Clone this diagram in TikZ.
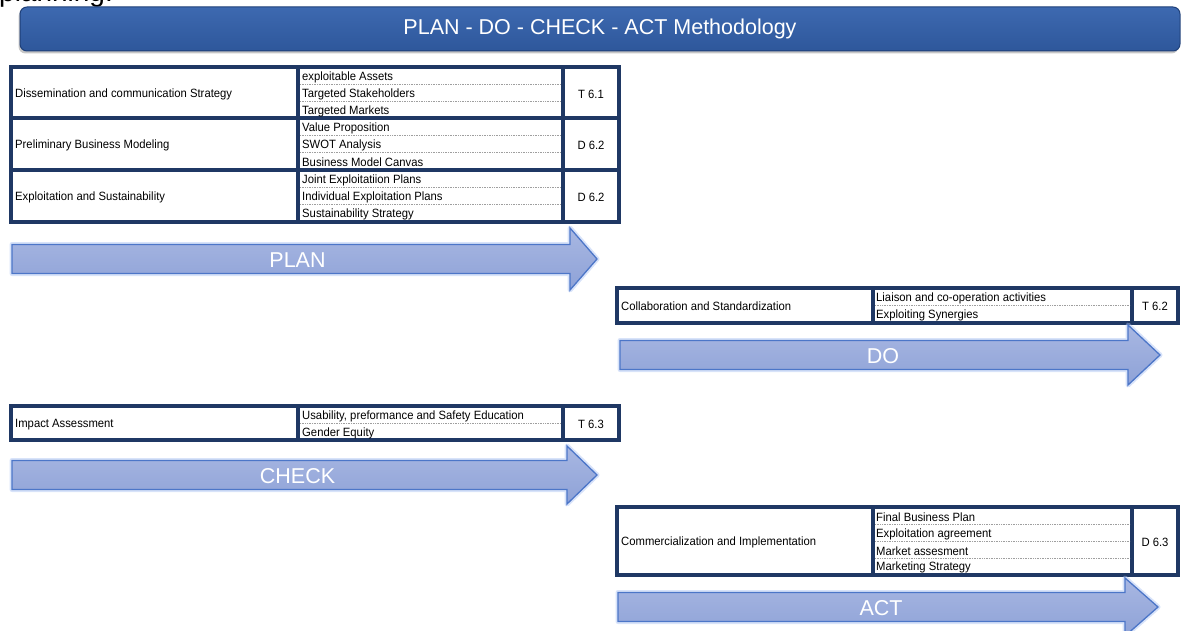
\documentclass[tikz,border=0pt]{standalone}
\usepackage{fontspec}
\setmainfont{Liberation Sans}
\newfontfamily\cellfont[FakeStretch=0.94]{Liberation Sans}
\usetikzlibrary{shadows}

\definecolor{navy}{HTML}{1F3864}
\definecolor{bannerlight}{HTML}{3D69B0}
\definecolor{bannerblue}{HTML}{2E579B}
\definecolor{bannerdark}{HTML}{1F4079}
\definecolor{arrowtop}{HTML}{A8B7E2}
\definecolor{arrowbot}{HTML}{8EA2D7}
\definecolor{arrowedge}{HTML}{4C76C8}
\definecolor{glowblue}{HTML}{A9C0F2}

\tikzset{
  frame/.style={draw=navy, line width=3.1pt},
  subline/.style={draw=gray!75, densely dotted, line width=0.7pt},
  celltext/.style={anchor=west, inner sep=0pt, yshift=-1.5pt,
    font=\cellfont\fontsize{12}{13}\selectfont},
  reftext/.style={inner sep=0pt, yshift=-1pt, font=\cellfont\fontsize{12}{13}\selectfont},
  banner/.style={draw=bannerdark, line width=1pt, rounded corners=7pt,
    top color=bannerlight, bottom color=bannerblue,
    drop shadow={shadow xshift=-1.5pt, shadow yshift=-2.5pt, opacity=.45},
    minimum width=1160pt, minimum height=44pt, inner sep=0pt,
    text=white, font=\fontsize{21.5}{24}\selectfont},
  phaselabel/.style={inner sep=0pt, yshift=-1pt, text=white, font=\fontsize{21.5}{24}\selectfont},
}

\begin{document}
\begin{tikzpicture}[x=1pt, y=-1pt]
\useasboundingbox (0,0) rectangle (1182,631);

% heading line from the page above
\node[anchor=base west, inner sep=0pt, font=\fontsize{28}{30}\selectfont] (intro) at (-1,2) {planning:};

% title bar
\node[banner] (title) at (600,29) {PLAN - DO - CHECK - ACT Methodology};

% ---- PLAN table ----
\draw[frame] (11,67) rectangle (619,222);
\draw[frame] (298,67) -- (298,222);
\draw[frame] (563,67) -- (563,222);
\draw[frame] (11,118) -- (619,118);
\draw[frame] (11,170) -- (619,170);
\foreach \y in {84,101,135,152,187,204}
  \draw[subline] (300,\y) -- (561,\y);

\node[celltext] (dissem) at (15,93) {Dissemination and communication Strategy};
\node[celltext] (assets) at (302,76) {exploitable Assets};
\node[celltext] (stake) at (302,93) {Targeted Stakeholders};
\node[celltext] (markets) at (302,110) {Targeted Markets};
\node[reftext] (t61) at (591,93) {T 6.1};

\node[celltext] (prelim) at (15,144) {Preliminary Business Modeling};
\node[celltext] (value) at (302,127) {Value Proposition};
\node[celltext] (swot) at (302,144) {SWOT Analysis};
\node[celltext] (canvas) at (302,161) {Business Model Canvas};
\node[reftext] (d62a) at (591,144) {D 6.2};

\node[celltext] (exploit) at (15,196) {Exploitation and Sustainability};
\node[celltext] (joint) at (302,179) {Joint Exploitatiion Plans};
\node[celltext] (indiv) at (302,196) {Individual Exploitation Plans};
\node[celltext] (sustain) at (302,213) {Sustainability Strategy};
\node[reftext] (d62b) at (591,196) {D 6.2};

% ---- DO table ----
\draw[frame] (617,288) rectangle (1178,323);
\draw[frame] (873,288) -- (873,323);
\draw[frame] (1132,288) -- (1132,323);
\draw[subline] (875,305) -- (1130,305);

\node[celltext] (collab) at (621,305) {Collaboration and Standardization};
\node[celltext] (liaison) at (876,297) {Liaison and co-operation activities};
\node[celltext] (synerg) at (876,314) {Exploiting Synergies};
\node[reftext] (t62) at (1155,305) {T 6.2};

% ---- CHECK table ----
\draw[frame] (11,406) rectangle (619,440);
\draw[frame] (298,406) -- (298,440);
\draw[frame] (563,406) -- (563,440);
\draw[subline] (300,423) -- (561,423);

\node[celltext] (impact) at (15,423) {Impact Assessment};
\node[celltext] (usab) at (302,415) {Usability, preformance and Safety Education};
\node[celltext] (gender) at (302,432) {Gender Equity};
\node[reftext] (t63) at (591,423) {T 6.3};

% ---- ACT table ----
\draw[frame] (617,507) rectangle (1178,575);
\draw[frame] (873,507) -- (873,575);
\draw[frame] (1132,507) -- (1132,575);
\foreach \y in {524,541,558}
  \draw[subline] (875,\y) -- (1130,\y);

\node[celltext] (commerc) at (621,541) {Commercialization and Implementation};
\node[celltext] (final) at (876,516) {Final Business Plan};
\node[celltext] (agree) at (876,533) {Exploitation agreement};
\node[celltext] (massess) at (876,550) {Market assesment};
\node[celltext] (mstrat) at (876,566) {Marketing Strategy};
\node[reftext] (d63) at (1155,541) {D 6.3};

% phase arrows: start, head start, tip, centre line, head half height
\foreach \xa/\xb/\xc/\yc/\hh/\nm/\txt in {12/570/597/259/31/plan/PLAN,
    620/1128/1160/355/30/do/DO, 12/567/597/475/29/check/CHECK,
    618/1125/1158/607/29/act/ACT}{
  \path[draw=glowblue, line width=5pt, opacity=.45, line join=round]
    (\xa,\yc-14.5) -- (\xb,\yc-14.5) -- (\xb,\yc-\hh) -- (\xc,\yc)
    -- (\xb,\yc+\hh) -- (\xb,\yc+14.5) -- (\xa,\yc+14.5) -- cycle;
  \path[draw=arrowedge, line width=1.3pt, top color=arrowtop, bottom color=arrowbot]
    (\xa,\yc-14.5) -- (\xb,\yc-14.5) -- (\xb,\yc-\hh) -- (\xc,\yc)
    -- (\xb,\yc+\hh) -- (\xb,\yc+14.5) -- (\xa,\yc+14.5) -- cycle;
  \node[phaselabel] (\nm) at ({(\xa+\xc)/2-7},\yc) {\txt};
}
\end{tikzpicture}
\end{document}
